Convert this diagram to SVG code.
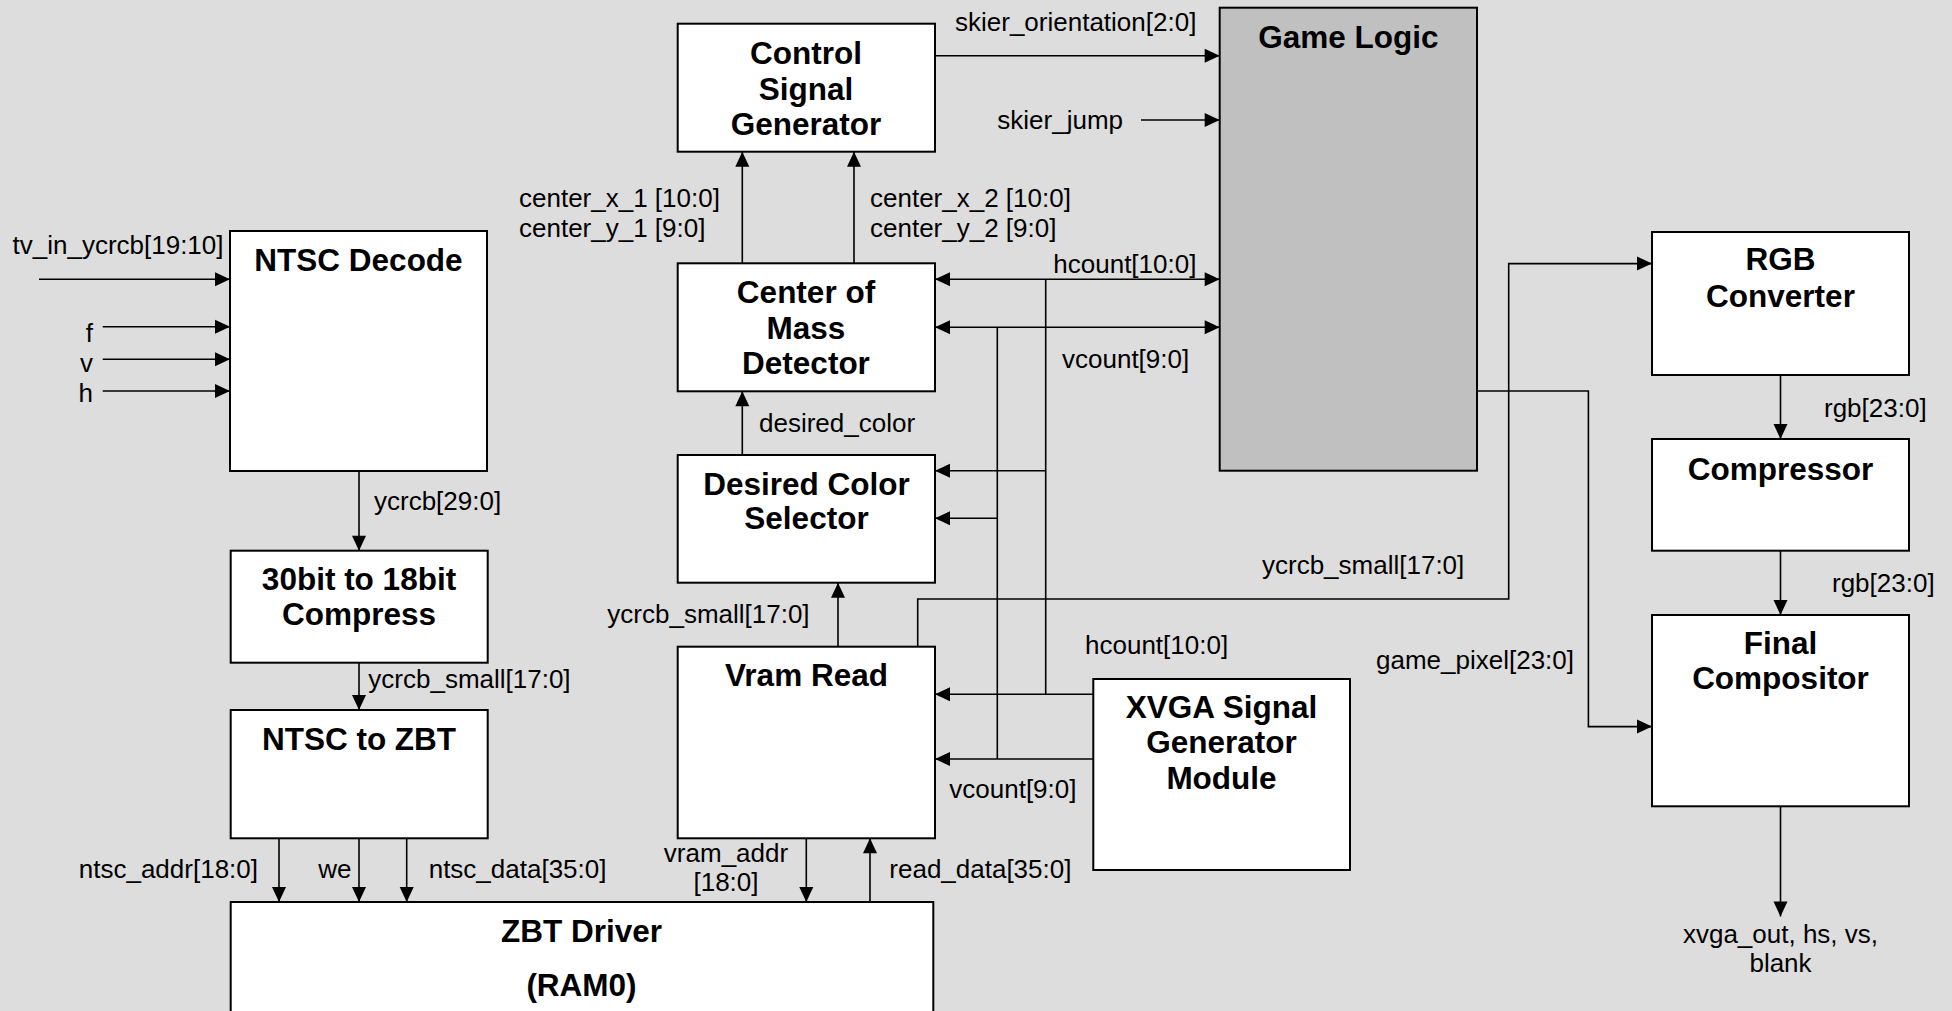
<svg xmlns="http://www.w3.org/2000/svg" width="1952" height="1011" viewBox="0 0 1952 1011">
<style>
.bg{fill:#dddddd}
.box{fill:#ffffff;stroke:#000;stroke-width:2}
.gl{fill:#c0c0c0;stroke:#000;stroke-width:2}
.w{fill:none;stroke:#000;stroke-width:1.6}
.a{marker-end:url(#ah)}
.b{marker-start:url(#ah);marker-end:url(#ah)}
.t{font-family:"Liberation Sans",Arial,sans-serif;font-weight:bold;font-size:31.5px;text-anchor:middle;fill:#000}
.l{font-family:"Liberation Sans",Arial,sans-serif;font-size:26px;fill:#000}
.m{text-anchor:middle}
.e{text-anchor:end}
</style>
<defs>
<marker id="ah" markerUnits="userSpaceOnUse" markerWidth="16" markerHeight="15" refX="15" refY="7" orient="auto-start-reverse" overflow="visible">
<path d="M0,0 L15,7 L0,14 z" fill="#000"/>
</marker>
</defs>
<rect class="bg" x="0" y="0" width="1952" height="1011"/>

<g id="connectors">
<path class="w a" d="M39,279.3 H230"/>
<path class="w a" d="M102.7,326.7 H230"/>
<path class="w a" d="M102.7,359.3 H230"/>
<path class="w a" d="M102.7,391 H230"/>
<path class="w a" d="M359,471 V550.7"/>
<path class="w a" d="M359,662.7 V710"/>
<path class="w a" d="M279,838.3 V902"/>
<path class="w a" d="M359,838.3 V902"/>
<path class="w a" d="M406.7,838.3 V902"/>
<path class="w a" d="M806.3,838.3 V902"/>
<path class="w a" d="M870,902 V838.3"/>
<path class="w a" d="M838,646.7 V582.7"/>
<path class="w a" d="M742.3,455 V391.3"/>
<path class="w a" d="M742.3,263.3 V151.7"/>
<path class="w a" d="M854,263.3 V151.7"/>
<path class="w a" d="M935,55.7 H1219.7"/>
<path class="w a" d="M1141,120 H1219.7"/>
<path class="w b" d="M935,279.3 H1219.7"/>
<path class="w b" d="M935,327.3 H1219.7"/>
<path class="w" d="M1045.7,279.3 V694.3"/>
<path class="w" d="M997.3,327.3 V759"/>
<path class="w a" d="M1045.7,470.7 H935"/>
<path class="w a" d="M997.3,518.3 H935"/>
<path class="w a" d="M1093.3,694.3 H935"/>
<path class="w a" d="M1093.3,759 H935"/>
<path class="w a" d="M917.7,646.7 V599 H1508.7 V263.6 H1652"/>
<path class="w a" d="M1477,391 H1588.4 V726.6 H1652"/>
<path class="w a" d="M1780.5,375 V439"/>
<path class="w a" d="M1780.5,550.7 V615"/>
<path class="w a" d="M1780.5,806.3 V916.5"/>
</g>

<g id="labels">
<text class="l" x="12.5" y="254">tv_in_ycrcb[19:10]</text>
<text class="l e" x="93" y="342">f</text>
<text class="l e" x="93" y="372">v</text>
<text class="l e" x="93" y="401.5">h</text>
<text class="l" x="374" y="510">ycrcb[29:0]</text>
<text class="l" x="368.3" y="688">ycrcb_small[17:0]</text>
<text class="l e" x="258" y="878">ntsc_addr[18:0]</text>
<text class="l" x="318.3" y="878">we</text>
<text class="l" x="428.7" y="878">ntsc_data[35:0]</text>
<text class="l m" x="726" y="862.3">vram_addr</text>
<text class="l m" x="726" y="891">[18:0]</text>
<text class="l" x="889.3" y="878">read_data[35:0]</text>
<text class="l" x="949.3" y="798">vcount[9:0]</text>
<text class="l" x="1085" y="654">hcount[10:0]</text>
<text class="l" x="607.3" y="622.5">ycrcb_small[17:0]</text>
<text class="l" x="759" y="431.5">desired_color</text>
<text class="l" x="519" y="206.5">center_x_1 [10:0]</text>
<text class="l" x="519" y="236.5">center_y_1 [9:0]</text>
<text class="l" x="870" y="206.5">center_x_2 [10:0]</text>
<text class="l" x="870" y="236.5">center_y_2 [9:0]</text>
<text class="l" x="955" y="31">skier_orientation[2:0]</text>
<text class="l" x="997.3" y="129">skier_jump</text>
<text class="l" x="1053.3" y="273">hcount[10:0]</text>
<text class="l" x="1062" y="367.5">vcount[9:0]</text>
<text class="l" x="1262" y="574">ycrcb_small[17:0]</text>
<text class="l" x="1376" y="668.5">game_pixel[23:0]</text>
<text class="l" x="1824" y="416.5">rgb[23:0]</text>
<text class="l" x="1832" y="592">rgb[23:0]</text>
<text class="l m" x="1780.5" y="943">xvga_out, hs, vs,</text>
<text class="l m" x="1780.5" y="971.5">blank</text>
</g>

<g id="ntsc_decode"><rect class="box" x="230" y="231" width="257" height="240"/><text class="t" x="358.5" y="271">NTSC Decode</text></g>
<g id="compress30to18"><rect class="box" x="230.7" y="550.7" width="257" height="112"/><text class="t" x="359" y="590">30bit to 18bit</text><text class="t" x="359" y="625">Compress</text></g>
<g id="ntsc_to_zbt"><rect class="box" x="230.7" y="710" width="257" height="128.3"/><text class="t" x="359" y="750">NTSC to ZBT</text></g>
<g id="zbt_driver"><rect class="box" x="230.7" y="902" width="702.6" height="130"/><text class="t" x="581.5" y="941.5">ZBT Driver</text><text class="t" x="581.5" y="996">(RAM0)</text></g>
<g id="control_signal_generator"><rect class="box" x="677.7" y="23.7" width="257.3" height="128"/><text class="t" x="806" y="64">Control</text><text class="t" x="806" y="99.5">Signal</text><text class="t" x="806" y="134.5">Generator</text></g>
<g id="center_of_mass"><rect class="box" x="677.7" y="263.3" width="257.3" height="128"/><text class="t" x="806" y="302.5">Center of</text><text class="t" x="806" y="339">Mass</text><text class="t" x="806" y="373.5">Detector</text></g>
<g id="desired_color_selector"><rect class="box" x="677.7" y="455" width="257.3" height="127.7"/><text class="t" x="806.5" y="494.5">Desired Color</text><text class="t" x="806.5" y="529">Selector</text></g>
<g id="vram_read"><rect class="box" x="677.7" y="646.7" width="257.3" height="191.6"/><text class="t" x="806.5" y="685.7">Vram Read</text></g>
<g id="xvga"><rect class="box" x="1093.3" y="679" width="256.7" height="191"/><text class="t" x="1221.5" y="717.5">XVGA Signal</text><text class="t" x="1221.5" y="753">Generator</text><text class="t" x="1221.5" y="788.5">Module</text></g>
<g id="game_logic"><rect class="gl" x="1219.7" y="7.7" width="257.3" height="463"/><text class="t" x="1348.3" y="47.5">Game Logic</text></g>
<g id="rgb_converter"><rect class="box" x="1652" y="232" width="257" height="143"/><text class="t" x="1780.5" y="270">RGB</text><text class="t" x="1780.5" y="306.5">Converter</text></g>
<g id="compressor"><rect class="box" x="1652" y="439" width="257" height="111.7"/><text class="t" x="1780.5" y="479.5">Compressor</text></g>
<g id="final_compositor"><rect class="box" x="1652" y="615" width="257" height="191.3"/><text class="t" x="1780.5" y="654">Final</text><text class="t" x="1780.5" y="689">Compositor</text></g>
</svg>
